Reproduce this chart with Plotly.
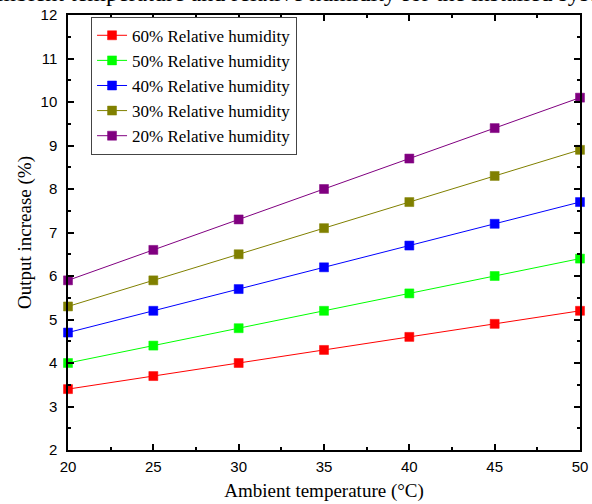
import plotly.graph_objects as go

temps = [20, 25, 30, 35, 40, 45, 50]
rh60 = [3.4, 3.7, 4.0, 4.3, 4.6, 4.9, 5.2]
rh50 = [4.0, 4.4, 4.8, 5.2, 5.6, 6.0, 6.4]
rh40 = [4.7, 5.2, 5.7, 6.2, 6.7, 7.2, 7.7]
rh30 = [5.3, 5.9, 6.5, 7.1, 7.7, 8.3, 8.9]
rh20 = [5.9, 6.6, 7.3, 8.0, 8.7, 9.4, 10.1]
names = ["60% Relative humidity", "50% Relative humidity", "40% Relative humidity",
         "30% Relative humidity", "20% Relative humidity"]
colors = ["#FF0000", "#00FF00", "#0000FF", "#808000", "#800080"]
series = [rh60, rh50, rh40, rh30, rh20]

fig = go.Figure()
for n, c, s in zip(names, colors, series):
    fig.add_trace(go.Scatter(x=temps, y=s, name=n, mode="lines+markers",
                             line=dict(color=c, width=1),
                             marker=dict(symbol="square", size=9, color=c,
                                         line=dict(color=c, width=0.5)),
                             cliponaxis=False))

axis_common = dict(showline=True, linecolor="black", linewidth=1.5, mirror="allticks",
                   ticks="inside", ticklen=6, tickwidth=1.5, tickcolor="black",
                   showgrid=False, zeroline=False, automargin=False,
                   tickfont=dict(family="Arial, Liberation Sans", size=15, color="black"),
                   title_font=dict(family="Times New Roman, Liberation Serif", size=19, color="black"))

fig.update_xaxes(range=[20, 50], dtick=5, tick0=20, ticklabelstandoff=2,
                 minor=dict(ticks="inside", ticklen=3, tickwidth=1.5, dtick=2.5, tickcolor="black"),
                 title_text="Ambient temperature (°C)", title_standoff=10, **axis_common)
fig.update_yaxes(range=[2, 12], dtick=1, tick0=2, ticklabelstandoff=6,
                 minor=dict(ticks="inside", ticklen=3, tickwidth=1.5, dtick=0.5, tickcolor="black"),
                 title_text="Output increase (%)", title_standoff=4, **axis_common)

fig.add_annotation(text="Ambient temperature and relative humidity for the installed system",
                   xref="paper", yref="paper", x=0.458, y=1.015, xanchor="center", yanchor="bottom",
                   showarrow=False,
                   font=dict(family="Times New Roman, Liberation Serif", size=24, color="black"))

fig.update_layout(width=592, height=504, plot_bgcolor="white", paper_bgcolor="white",
                  margin=dict(l=68, r=12, t=15, b=54),
                  showlegend=True,
                  legend=dict(x=0.045, y=0.996, xanchor="left", yanchor="top",
                              bgcolor="white", bordercolor="#444", borderwidth=1,
                              font=dict(family="Times New Roman, Liberation Serif", size=17, color="black"),
                              itemwidth=30, tracegroupgap=0))

fig.write_html("out.html", config={"displayModeBar": False},
               post_script="document.body.style.margin='0';document.body.style.overflow='hidden';")
